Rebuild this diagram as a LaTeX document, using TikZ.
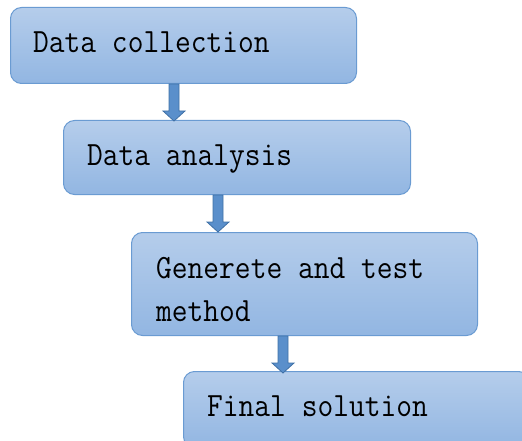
\documentclass[tikz,border=0pt]{standalone}
\usepackage{fontspec}
\newfontfamily\boxfont[FakeStretch=0.9]{Latin Modern Mono}
\definecolor{boxtop}{HTML}{B5CDEB}
\definecolor{boxbot}{HTML}{92B6E2}
\definecolor{boxline}{HTML}{6A9BD2}
\definecolor{arrfill}{HTML}{5A8FCB}
\definecolor{arrline}{HTML}{3F70A6}
\tikzset{
  stage/.style={draw=boxline, line width=1pt, rounded corners=11pt, top color=boxtop, bottom color=boxbot, anchor=north west, inner sep=0pt},
  label/.style={anchor=base west, inner sep=0pt, font=\boxfont\fontsize{34}{43}\selectfont, align=left, text=black},
  arrowbody/.style={draw=arrline, fill=arrfill, line width=0.8pt, line join=miter},
  pics/barrow/.style={code={\draw[arrowbody] (-5,0) -- (-5,27) -- (-11,27) -- (0,37) -- (11,27) -- (5,27) -- (5,0) -- cycle;}}
}
\begin{document}
\begin{tikzpicture}[x=1pt,y=-1pt]
\useasboundingbox (0,0) rectangle (522,441);
\clip (0,0) rectangle (522,441);
\node[stage, minimum width=346pt, minimum height=76pt] (b1) at (10,7) {};
\node[stage, minimum width=347pt, minimum height=74pt] (b2) at (63,120) {};
\node[stage, minimum width=346pt, minimum height=103pt] (b3) at (131,232) {};
\node[stage, minimum width=346pt, minimum height=76pt] (b4) at (183,371) {};
\node[label] (t1) at (33,53) {Data collection};
\node[label] (t2) at (87,165) {Data analysis};
\node[label] (t3) at (156,321) {Generete and test\\method};
\node[label] (t4) at (207,416) {Final solution};
\coordinate (a1) at (b1.south -| 174,0);
\coordinate (a2) at (b2.south -| 218,0);
\coordinate (a3) at (b3.south -| 283,0);
\pic at (a1) {barrow};
\pic at (a2) {barrow};
\pic at (a3) {barrow};
\end{tikzpicture}
\end{document}
